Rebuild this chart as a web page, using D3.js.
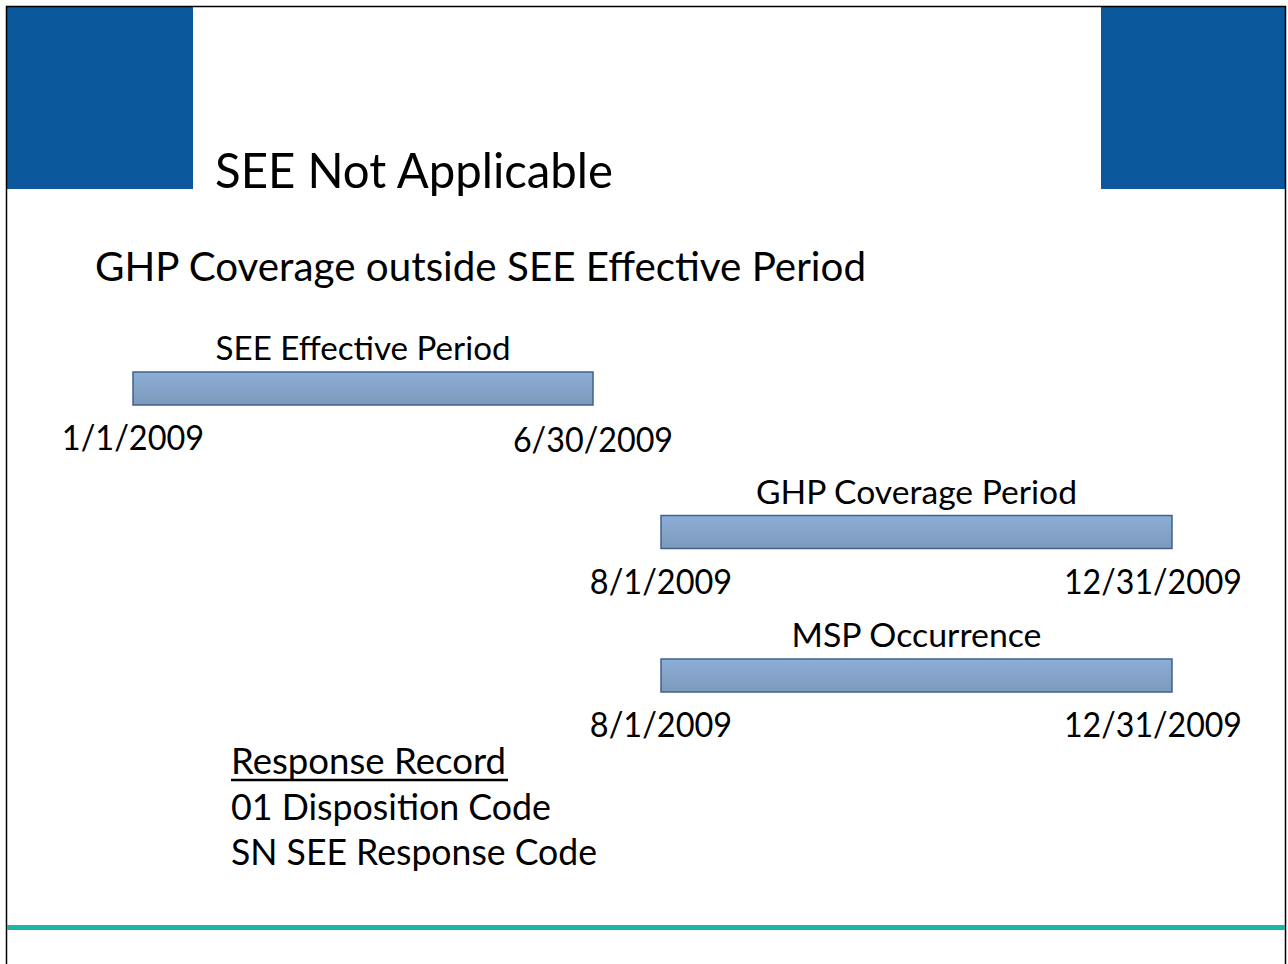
<!DOCTYPE html>
<html>
<head>
<meta charset="utf-8">
<script src="https://cdn.jsdelivr.net/npm/d3@7"></script>
<style>
  html, body { margin: 0; padding: 0; background: #fff; }
  svg { display: block; }
  text { font-family: Lato, "Open Sans", sans-serif; fill: #000; }
</style>
</head>
<body>
<div id="slide"></div>
<script>
// slide text
const slideTitle = "SEE Not Applicable";
const slideSubtitle = "GHP Coverage outside SEE Effective Period";

// timeline rows
const periods = ["SEE Effective Period", "GHP Coverage Period", "MSP Occurrence"];
const startDates = ["1/1/2009", "8/1/2009", "8/1/2009"];
const endDates = ["6/30/2009", "12/31/2009", "12/31/2009"];

// response box
const responseLines = ["Response Record", "01 Disposition Code", "SN SEE Response Code"];

const width = 1288;
const height = 964;
const parse = d3.timeParse("%m/%d/%Y");

const rows = periods.map((p, i) => ({
    name: p,
    startLabel: startDates[i],
    endLabel: endDates[i],
    start: parse(startDates[i]),
    end: parse(endDates[i])
}));

const svg = d3.select("#slide")
    .append("svg")
    .attr("width", width)
    .attr("height", height);

// bar gradient
const defs = svg.append("defs");
const grad = defs.append("linearGradient")
    .attr("id", "barFill")
    .attr("x1", 0).attr("y1", 0).attr("x2", 0).attr("y2", 1);
grad.append("stop").attr("offset", "0%").attr("stop-color", "#8badd7");
grad.append("stop").attr("offset", "100%").attr("stop-color", "#7d9aba");

// squeeze text to the width it has on the slide
function fit(sel, w) {
    sel.attr("textLength", w).attr("lengthAdjust", "spacingAndGlyphs");
}

// frame + header blocks
svg.append("rect").attr("x", 7).attr("y", 7).attr("width", 186).attr("height", 182).attr("fill", "#0b589c");
svg.append("rect").attr("x", 1101).attr("y", 7).attr("width", 184).attr("height", 182).attr("fill", "#0b589c");
svg.append("path")
    .attr("d", `M6.5,${height} V6.5 H1285.5 V${height}`)
    .attr("fill", "none")
    .attr("stroke", "#000")
    .attr("stroke-width", 1.5);

// bottom teal rule
svg.append("line")
    .attr("x1", 7).attr("x2", 1285)
    .attr("y1", 927.5).attr("y2", 927.5)
    .attr("stroke", "#1cb5a9")
    .attr("stroke-width", 5);

svg.append("text")
    .attr("x", 215).attr("y", 188)
    .style("font-size", "49px")
    .text(slideTitle)
    .call(fit, 398);

svg.append("text")
    .attr("x", 95).attr("y", 281)
    .style("font-size", "40px")
    .text(slideSubtitle)
    .call(fit, 771);

// slide is not drawn to scale, so the time scale is piecewise
const domainDates = [rows[0].start, rows[0].end, rows[1].start, rows[1].end];
const x = d3.scaleTime()
    .domain(domainDates)
    .range([133, 593, 661, 1172]);

const y = d3.scalePoint()
    .domain(periods)
    .range([372, 659]);

const barH = 33;

const row = svg.selectAll("g.row")
    .data(rows)
    .join("g")
    .attr("class", "row");

row.append("rect")
    .attr("x", d => x(d.start))
    .attr("y", d => y(d.name))
    .attr("width", d => x(d.end) - x(d.start))
    .attr("height", barH)
    .attr("fill", "url(#barFill)")
    .attr("stroke", "#41628c")
    .attr("stroke-width", 1.5);

row.append("text")
    .attr("x", d => (x(d.start) + x(d.end)) / 2)
    .attr("y", d => y(d.name) - 12)
    .attr("text-anchor", "middle")
    .style("font-size", "33px")
    .text(d => d.name)
    .each(function (d) {
        // keep widths close to the original Calibri
        const w = { "SEE Effective Period": 295, "GHP Coverage Period": 321, "MSP Occurrence": 250 }[d.name];
        d3.select(this).call(fit, w);
    });

// date labels under each bar
const dateW = d => d.length * 17.8;

row.append("text")
    .attr("x", d => x(d.start))
    .attr("y", d => y(d.name) + barH + 45)
    .attr("text-anchor", "middle")
    .style("font-size", "35px")
    .text(d => d.startLabel)
    .each(function (d) { d3.select(this).call(fit, dateW(d.startLabel)); });

row.append("text")
    .attr("x", d => Math.min(x(d.end), 1242 - dateW(d.endLabel) / 2))
    .attr("y", (d, i) => y(d.name) + barH + (i === 0 ? 47 : 45))
    .attr("text-anchor", "middle")
    .style("font-size", "35px")
    .text(d => d.endLabel)
    .each(function (d) { d3.select(this).call(fit, dateW(d.endLabel)); });

// response record block
const respW = [275, 320, 366];
const respY = d3.scalePoint().domain(responseLines).range([774, 865]);

svg.selectAll("text.resp")
    .data(responseLines)
    .join("text")
    .attr("class", "resp")
    .attr("x", 231)
    .attr("y", d => respY(d))
    .style("font-size", "37px")
    .text(d => d)
    .each(function (d, i) { d3.select(this).call(fit, respW[i]); });

svg.append("line")
    .attr("x1", 231).attr("x2", 508)
    .attr("y1", 780).attr("y2", 780)
    .attr("stroke", "#000")
    .attr("stroke-width", 2.5);
</script>
</body>
</html>
